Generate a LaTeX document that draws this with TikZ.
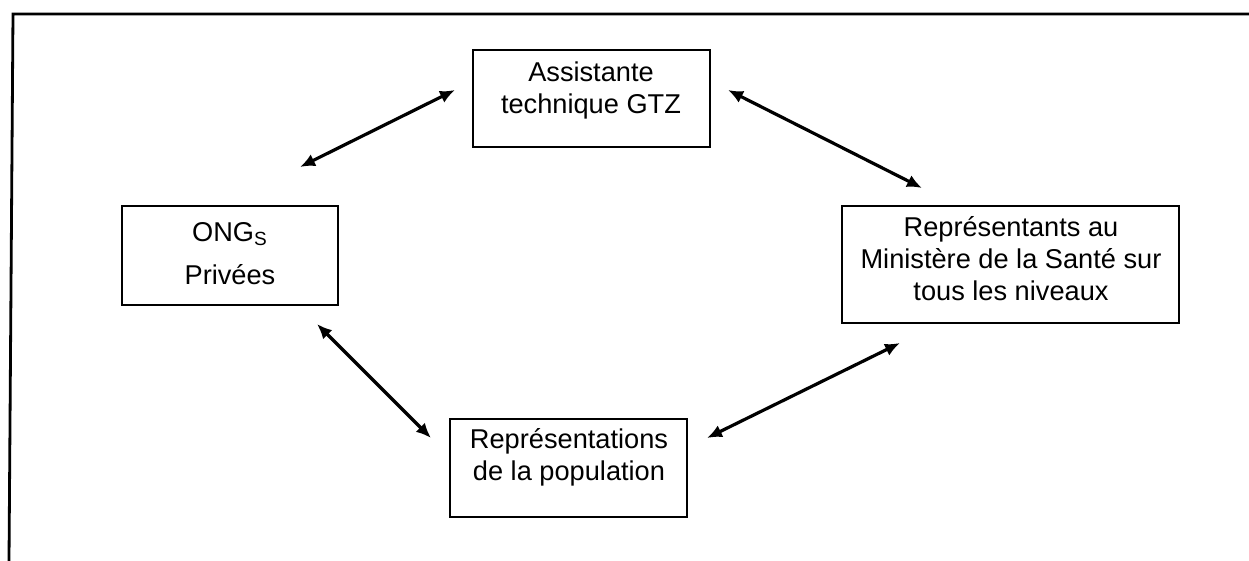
\documentclass[tikz,border=0pt]{standalone}
\usepackage{fontspec}
\setmainfont{Liberation Sans}
\usetikzlibrary{arrows.meta}
\begin{document}
\begin{tikzpicture}[x=0.5pt,y=-0.5pt,
  box/.style={draw,line width=1.3pt,inner sep=0pt},
  lbl/.style={font=\fontsize{13.6pt}{16pt}\selectfont,align=center,inner sep=0pt},
  link/.style={line width=1.6pt,{Latex[length=7.5pt,width=6.5pt]}-{Latex[length=7.5pt,width=6.5pt]}}]
\useasboundingbox (0,0) rectangle (1249,561);
\draw[line width=1.4pt] (9,561) -- (13,14) -- (1249,14);
% boxes
\node[box,minimum width=118.5pt,minimum height=48.5pt] (A) at (591.5,98.5) {};
\node[box,minimum width=168.5pt,minimum height=58.5pt] (R) at (1010.5,264.5) {};
\node[box,minimum width=108pt,minimum height=49.5pt] (O) at (230,255.5) {};
\node[box,minimum width=118.5pt,minimum height=49pt] (P) at (568.5,468) {};
% texts
\node[lbl] (Atxt) at (591,90) {Assistante\\technique GTZ};
\node[lbl] (Rtxt) at (1011,259) {Représentants au\\Ministère de la Santé sur\\tous les niveaux};
\node[lbl] (Otxt) at (230,253.5) {ONG\textsubscript{S}\\[5.5pt]Privées};
\node[lbl] (Ptxt) at (569,457.5) {Représentations\\de la population};
% arrow ends
\coordinate (oa1) at (300,167); \coordinate (oa2) at (455,90);
\coordinate (ar1) at (728,90);  \coordinate (ar2) at (922,188);
\coordinate (op1) at (317,324); \coordinate (op2) at (431,438);
\coordinate (pr1) at (707,438); \coordinate (pr2) at (900,343);
\draw[link] (oa1) -- (oa2);
\draw[link] (ar1) -- (ar2);
\draw[link] (op1) -- (op2);
\draw[link] (pr1) -- (pr2);
\end{tikzpicture}
\end{document}
